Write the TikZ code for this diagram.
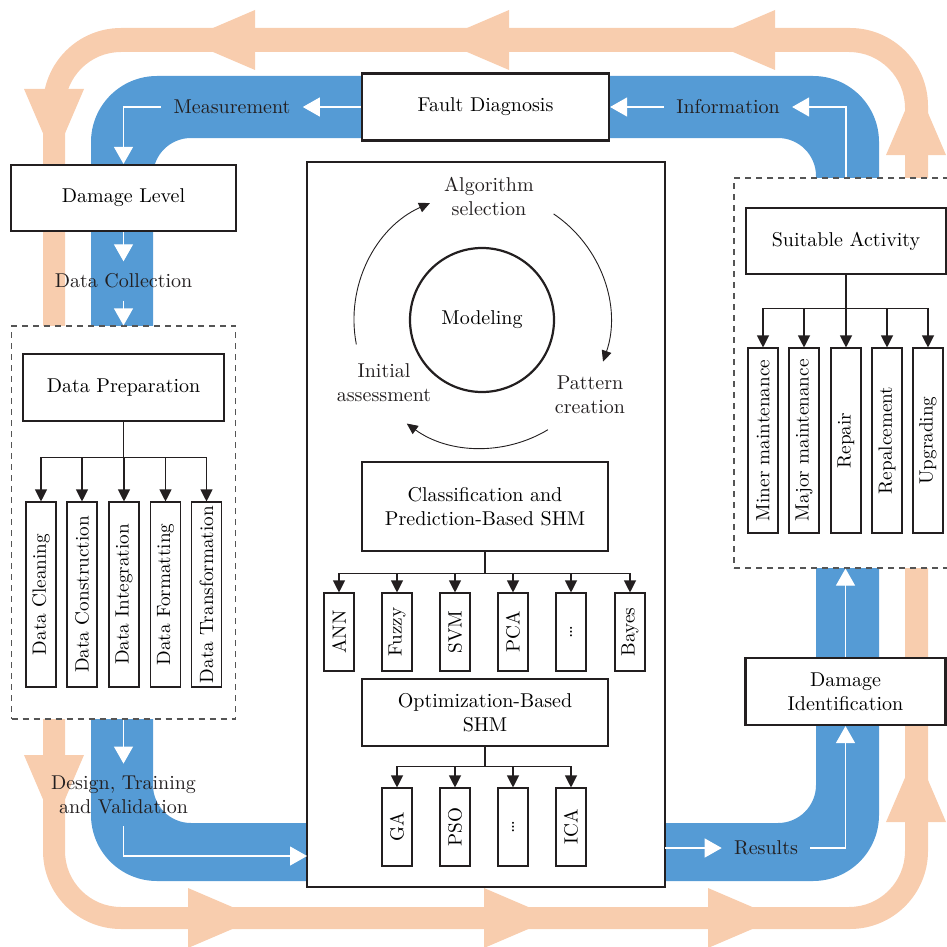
\documentclass[tikz,border=0pt]{standalone}
\usetikzlibrary{arrows.meta}
\definecolor{peach}{RGB}{248,205,174}
\definecolor{bandblue}{RGB}{85,155,213}
\definecolor{inkgray}{RGB}{35,31,32}
\definecolor{zonegray}{RGB}{85,85,85}
\tikzset{flowhead/.pic={\fill[peach] (0,-30) -- (70,0) -- (0,30) -- cycle;}}
\begin{document}
\begin{tikzpicture}[x=0.5pt,y=-0.5pt,font=\fontsize{10}{12}\selectfont,
  mainbox/.style={draw=inkgray,line width=1.1pt,fill=white,align=center,inner sep=0pt},
  subbox/.style={draw=inkgray,line width=0.55pt,fill=white,align=center,inner sep=0pt},
  leafbox/.style={draw=inkgray,line width=0.55pt,fill=white,inner sep=0pt,rotate=90,minimum width=#1,minimum height=15pt,font=\fontsize{9.6}{11}\selectfont},
  zone/.style={draw=zonegray,line width=0.6pt,dash pattern=on 3pt off 2.5pt,fill=white,inner sep=0pt},
  flowlabel/.style={inner sep=6pt,align=center,text=inkgray},
  flowarrow/.style={draw=white,line width=0.6pt,-{Triangle[length=8.5pt,width=9.5pt,fill=white]}},
  treearrow/.style={draw=inkgray,line width=0.55pt,-{Triangle[length=6pt,width=6pt]}},
  cyclearrow/.style={draw=inkgray,line width=0.45pt,-{Triangle[length=5.5pt,width=5pt]}}]
\useasboundingbox (0,0) rectangle (947,947);

% the two loops
\fill[peach,even odd rule] [rounded corners=39pt] (43,28) rectangle (928,929) [rounded corners=28pt] (65,52) rectangle (905,907);
\fill[bandblue,even odd rule] [rounded corners=33pt] (91,76) rectangle (879,881) [rounded corners=19pt] (153,138) rectangle (816,823);
\pic[rotate=180] at (255,40) {flowhead};
\pic[rotate=180] at (509,40) {flowhead};
\pic[rotate=180] at (775,40) {flowhead};
\pic[rotate=-90] at (54,89) {flowhead};
\pic[rotate=-90] at (54,755) {flowhead};
\pic at (188,918) {flowhead};
\pic at (484,918) {flowhead};
\pic at (708,918) {flowhead};
\pic[rotate=90] at (916,822) {flowhead};
\pic[rotate=90] at (916,155) {flowhead};

% boxes on the loop
\node[mainbox,minimum width=123.5pt,minimum height=33.5pt] (fault) at (485.5,107) {Fault Diagnosis};
\node[mainbox,minimum width=112.5pt,minimum height=33pt] (dmglevel) at (123.5,198) {Damage Level};
\node[zone,minimum width=112pt,minimum height=196.5pt] (prepzone) at (123.5,522.5) {};
\node[zone,minimum width=113pt,minimum height=195pt] (actzone) at (847,373) {};
\node[mainbox,minimum width=100pt,minimum height=33.5pt] (dmgident) at (845.5,691.5) {Damage\\Identification};
\node[subbox,minimum width=179pt,minimum height=362.5pt] (core) at (486,524.5) {};

% data preparation
\node[mainbox,minimum width=100.5pt,minimum height=33.5pt] (prepbox) at (123.5,387.5) {Data Preparation};
\node[leafbox=92.5pt] (clean) at (41,594.5) {Data Cleaning};
\node[leafbox=92.5pt] (construct) at (82,594.5) {Data Construction};
\node[leafbox=92.5pt] (integ) at (124,594.5) {Data Integration};
\node[leafbox=92.5pt] (formatting) at (165.5,594.5) {Data Formatting};
\node[leafbox=92.5pt] (transform) at (206.5,594.5) {Data Transformation};
\foreach \leaf in {clean,construct,integ,formatting,transform}
  \draw[treearrow] (prepbox.south) -- ++(0,35) -| (\leaf);

% suitable activity
\node[mainbox,minimum width=100pt,minimum height=33pt] (suitact) at (846,241) {Suitable Activity};
\node[leafbox=92.5pt] (minor) at (763,440.5) {Miner maintenance};
\node[leafbox=92.5pt] (major) at (804,440.5) {Major maintenance};
\node[leafbox=92.5pt] (repair) at (846,440.5) {Repair};
\node[leafbox=92.5pt] (replace) at (887,440.5) {Repalcement};
\node[leafbox=92.5pt] (upgrade) at (928,440.5) {Upgrading};
\foreach \leaf in {minor,major,repair,replace,upgrade}
  \draw[treearrow] (suitact.south) -- ++(0,33) -| (\leaf);

% modeling cycle
\node[draw=inkgray,line width=1.1pt,circle,minimum size=72pt,inner sep=0pt] (model) at (482,320) {Modeling};
\node[flowlabel,inner sep=0pt] (algsel) at (489,196) {Algorithm\\selection};
\node[flowlabel,inner sep=0pt] (pattern) at (590,395) {Pattern\\creation};
\node[flowlabel,inner sep=0pt] (initial) at (384,383) {Initial\\assessment};
\draw[cyclearrow] (model.center) ++(169:128) arc[start angle=169,end angle=246,radius=128];
\draw[cyclearrow] (model.center) ++(-56:128) arc[start angle=-56,end angle=19,radius=128];
\draw[cyclearrow] (model.center) ++(59:128) arc[start angle=59,end angle=126,radius=128];

% classification and optimization
\node[subbox,minimum width=123pt,minimum height=44.5pt] (classbox) at (485,506.5) {Classification and\\Prediction-Based SHM};
\node[leafbox=39pt] (ann) at (339,632) {ANN};
\node[leafbox=39pt] (fuzzy) at (397,632) {Fuzzy};
\node[leafbox=39pt] (svm) at (455,632) {SVM};
\node[leafbox=39pt] (pca) at (513,632) {PCA};
\node[leafbox=39pt] (cdots) at (571,632) {\dots};
\node[leafbox=39pt] (bayes) at (630,632) {Bayes};
\foreach \leaf in {ann,fuzzy,svm,pca,cdots,bayes}
  \draw[treearrow] (classbox.south) -- ++(0,22) -| (\leaf);
\node[subbox,minimum width=123pt,minimum height=33.5pt] (optbox) at (485,712.5) {Optimization-Based\\SHM};
\node[leafbox=39pt] (ga) at (397,827) {GA};
\node[leafbox=39pt] (pso) at (455,827) {PSO};
\node[leafbox=39pt] (odots) at (513,827) {\dots};
\node[leafbox=39pt] (ica) at (571,827) {ICA};
\foreach \leaf in {ga,pso,odots,ica}
  \draw[treearrow] (optbox.south) -- ++(0,20) -| (\leaf);

% white flow on the blue loop
\node[flowlabel] (meas) at (232,107) {Measurement};
\node[flowlabel] (info) at (728,107) {Information};
\node[flowlabel] (collect) at (123.5,281) {Data Collection};
\node[flowlabel] (design) at (123.5,795) {Design, Training\\and Validation};
\node[flowlabel] (results) at (766,848) {Results};
\coordinate (coreIn) at (307,856);
\coordinate (coreOut) at (665,848);
\draw[flowarrow] (fault.west) -- (meas.east);
\draw[flowarrow] (meas.west) -| (dmglevel.north);
\draw[flowarrow] (info.west) -- (fault.east);
\draw[flowarrow] (suitact.south |- actzone.north) |- (info.east);
\draw[flowarrow] (dmglevel.south) -- (collect.north);
\draw[flowarrow] (collect.south) -- (prepzone.north);
\draw[flowarrow] (prepzone.south) -- (design.north);
\draw[flowarrow] (design.south) |- (coreIn);
\draw[flowarrow] (coreOut) -- (results.west);
\draw[flowarrow] (results.east) -| (dmgident.south);
\draw[flowarrow] (dmgident.north) -- (dmgident.north |- actzone.south);
\end{tikzpicture}
\end{document}
